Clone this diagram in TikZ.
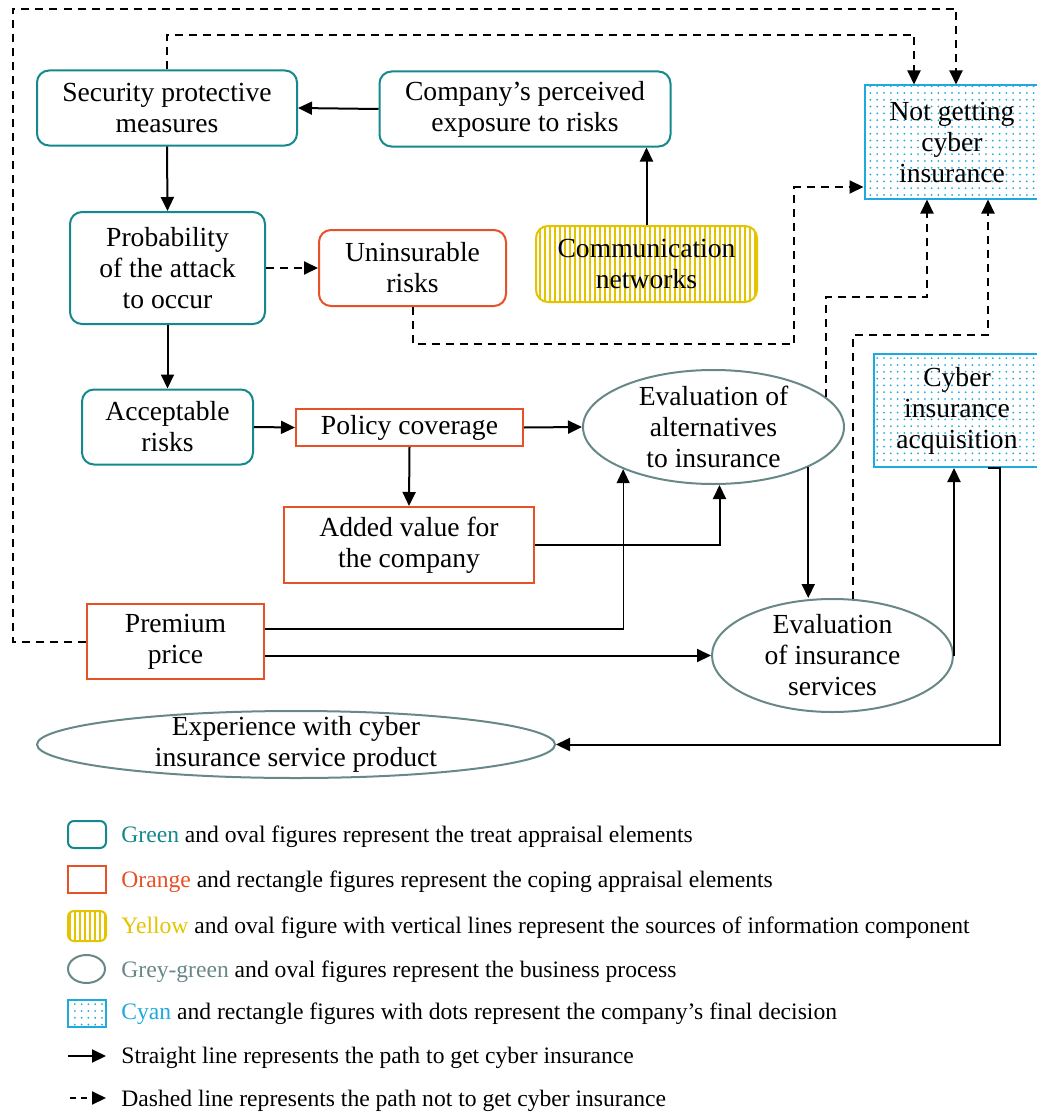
\documentclass[tikz,border=0pt]{standalone}
\usepackage{fontspec}
\setmainfont{Liberation Serif}
\usetikzlibrary{shapes.geometric,patterns.meta,arrows.meta}
\definecolor{tealc}{RGB}{20,137,141}
\definecolor{orangec}{RGB}{232,80,40}
\definecolor{yellowc}{RGB}{228,196,0}
\definecolor{greygreenc}{RGB}{104,136,136}
\definecolor{cyanc}{RGB}{30,170,222}
\newcommand{\boxfont}{\fontsize{13.8}{15.5}\selectfont}
\newcommand{\keyfont}{\fontsize{11.8}{13}\selectfont}

\begin{document}
\begin{tikzpicture}[x=0.5pt,y=-0.5pt,
  threat/.style={draw=tealc,line width=1pt,rounded corners=6pt,align=center,inner sep=0pt,font=\boxfont},
  coping/.style={draw=orangec,line width=1pt,align=center,inner sep=0pt,font=\boxfont},
  source/.style={draw=yellowc,line width=1pt,rounded corners=6pt,pattern={Lines[angle=90,distance=2.5pt,line width=0.7pt]},pattern color=yellowc,align=center,inner sep=0pt,font=\boxfont},
  process/.style={draw=greygreenc,line width=1pt,ellipse,inner sep=0pt},
  decision/.style={draw=cyanc,line width=1pt,pattern={Dots[distance=3.4pt,radius=0.5pt]},pattern color=cyanc,align=center,inner sep=0pt,font=\boxfont},
  lbl/.style={align=center,font=\boxfont},
  legtext/.style={anchor=base west,inner sep=0pt,font=\keyfont},
  get/.style={line width=1pt,-{Triangle[length=7pt,width=6.5pt]}},
  notget/.style={get,dash pattern=on 4pt off 3pt}]
  \useasboundingbox (0,0) rectangle (1037,1113);

  \node[threat,minimum width=130pt,minimum height=37.5pt] (sec) at (167,108) {Security protective\\measures};
  \node[threat,minimum width=145.5pt,minimum height=37.5pt] (comp) at (525,109) {Company’s perceived\\exposure to risks};
  \node[decision,minimum width=87.5pt,minimum height=56.5pt] (notcyb) at (952,142) {Not getting\\cyber\\insurance};
  \node[threat,minimum width=97.5pt,minimum height=56pt] (prob) at (167.5,268) {Probability\\of the attack\\to occur};
  \node[coping,rounded corners=6pt,minimum width=93.5pt,minimum height=38pt] (unins) at (412.5,268) {Uninsurable\\risks};
  \node[source,minimum width=110.5pt,minimum height=38pt] (comm) at (646.5,264) {Communication\\networks};
  \node[threat,minimum width=85.5pt,minimum height=37.5pt] (accept) at (167.5,427) {Acceptable\\risks};
  \node[coping,minimum width=113.5pt,minimum height=18.5pt] (policy) at (409.5,427.5) {Policy coverage};
  \node[coping,minimum width=125pt,minimum height=38pt] (added) at (409,545) {Added value for\\the company};
  \node[process,minimum width=130.5pt,minimum height=57pt,label={[lbl]center:Evaluation of\\alternatives\\to insurance}] (evalalt) at (713.5,427) {};
  \node[decision,minimum width=83pt,minimum height=56.5pt] (acq) at (957,410.5) {Cyber\\insurance\\acquisition};
  \node[process,minimum width=120.5pt,minimum height=56.5pt,label={[lbl]center:Evaluation\\of insurance\\services}] (evalsrv) at (832.5,655.5) {};
  \node[coping,minimum width=88.5pt,minimum height=37.5pt] (prem) at (175.5,641.5) {Premium\\price};
  \node[process,minimum width=259pt,minimum height=33.5pt,label={[lbl]center:Experience with cyber\\insurance service product}] (exper) at (296,744.5) {};

  \coordinate (c1) at (13,9);
  \coordinate (c2) at (167,35);
  \coordinate (c3) at (794,344);
  \coordinate (c4) at (927,297);
  \coordinate (c5) at (988,335);

  \draw[get] (sec.south) -- (prob.north);
  \draw[get] (comp.west) -- (sec.east);
  \draw[get] (comm.north) -- (comm.north |- comp.south);
  \draw[notget] (prob.east) -- (unins.west);
  \draw[get] (prob.south) -- (accept.north);
  \draw[get] (accept.east) -- (policy.west);
  \draw[get] (policy.east) -- (evalalt.west);
  \draw[get] (policy.south) -- (added.north);
  \draw[get] (added.east) -| ([xshift=3pt]evalalt.south);
  \draw[get,line width=0.6pt] ([yshift=6.25pt]prem.east) -| (evalalt.205.6);
  \draw[get] (prem.east |- evalsrv.west) -- (evalsrv.west);
  \draw[get] (evalalt.-23.5) -- (evalalt.-23.5 |- evalsrv.north);
  \draw[get] (evalsrv.east) -- (evalsrv.east |- acq.south);
  \draw[get] ([xshift=15.5pt]acq.south) -- ([xshift=21.5pt]acq.south) |- (exper.east);

  \draw[notget] (prem.west) -| (c1) -| ([xshift=2pt]notcyb.north);
  \draw[notget] (sec.north) -- (c2) -| ([xshift=-19pt]notcyb.north);
  \draw[notget] (unins.south) |- (c3) |- ([yshift=-22.5pt]notcyb.west);
  \draw[notget] (evalalt.15) |- (c4) -- ([xshift=-12.5pt]notcyb.south);
  \draw[notget] (evalsrv.70.7) |- (c5) -- ([xshift=18pt]notcyb.south);

  \node[threat,rounded corners=3pt,minimum width=19pt,minimum height=13.5pt] (key1) at (87,834.5) {};
  \node[coping,minimum width=19pt,minimum height=13.5pt] (key2) at (87,879.5) {};
  \node[source,rounded corners=3pt,minimum width=19pt,minimum height=15pt] (key3) at (87,926) {};
  \node[process,minimum width=18.5pt,minimum height=14pt] (key4) at (86.5,969) {};
  \node[decision,minimum width=19pt,minimum height=13.5pt] (key5) at (87,1013.5) {};
  \coordinate (key6a) at (68,1056);
  \coordinate (key6b) at (106,1056);
  \coordinate (key7a) at (70,1098);
  \coordinate (key7b) at (106,1098);
  \draw[get] (key6a) -- (key6b);
  \draw[notget,dash pattern=on 3pt off 2.5pt] (key7a) -- (key7b);

  \node[legtext] (txt1) at (121,842) {\textcolor{tealc}{Green} and oval figures represent the treat appraisal elements};
  \node[legtext] (txt2) at (121,887) {\textcolor{orangec}{Orange} and rectangle figures represent the coping appraisal elements};
  \node[legtext] (txt3) at (121,933) {\textcolor{yellowc}{Yellow} and oval figure with vertical lines represent the sources of information component};
  \node[legtext] (txt4) at (121,977) {\textcolor{greygreenc}{Grey-green} and oval figures represent the business process};
  \node[legtext] (txt5) at (121,1019) {\textcolor{cyanc}{Cyan} and rectangle figures with dots represent the company’s final decision};
  \node[legtext] (txt6) at (121,1063) {Straight line represents the path to get cyber insurance};
  \node[legtext] (txt7) at (121,1106) {Dashed line represents the path not to get cyber insurance};
\end{tikzpicture}
\end{document}
